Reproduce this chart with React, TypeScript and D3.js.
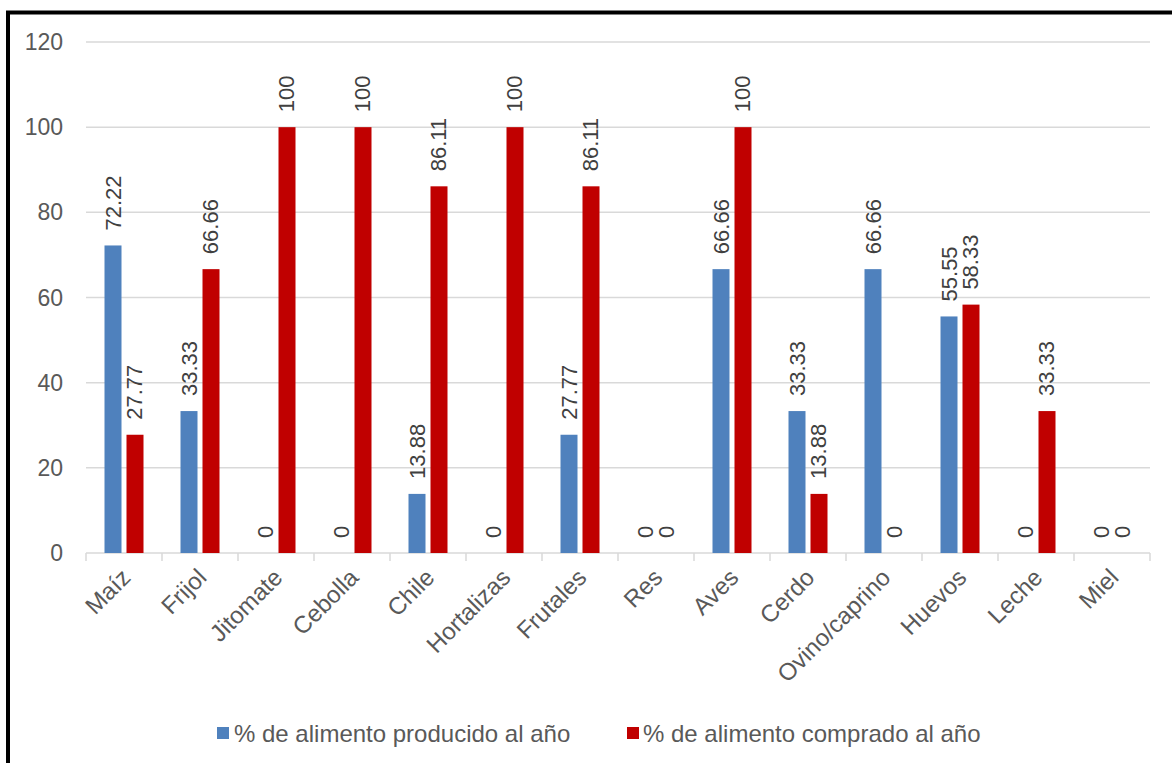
import React from "react";
import * as d3 from "d3";

const categories = ["Maíz","Frijol","Jitomate","Cebolla","Chile","Hortalizas","Frutales","Res","Aves","Cerdo","Ovino/caprino","Huevos","Leche","Miel"];
const producido = [72.22,33.33,0,0,13.88,0,27.77,0,66.66,33.33,66.66,55.55,0,0];
const comprado = [27.77,66.66,100,100,86.11,100,86.11,0,100,13.88,0,58.33,33.33,0];
const seriesNames = ["% de alimento producido al año","% de alimento comprado al año"];
const yTicks = [0,20,40,60,80,100,120];

const W = 1172, H = 763;
const left = 86, right = 1150, top = 42, bottom = 553;
const colors = ["#4f81bd", "#c00000"];
const font = "Arial, 'Liberation Sans', sans-serif";

export default function App() {
  const x = d3.scaleBand<string>().domain(categories).range([left, right]).paddingInner(0).paddingOuter(0);
  const sub = d3.scaleBand<string>().domain(["p","c"]).range([0, x.bandwidth()]).paddingInner(5/22).paddingOuter(0.841);
  const y = d3.scaleLinear().domain([0,120]).range([bottom, top]);
  const series = [producido, comprado];
  const keys = ["p","c"];
  const fmt = (v: number) => (v === 0 ? "0" : d3.format("")(v));
  return (
    <svg width={W} height={H} style={{position:"absolute", left:0, top:0}} fontFamily={font}>
      <rect x={0} y={0} width={W} height={H} fill="#fff" />
      <rect x={8} y={12.5} width={W + 20} height={H + 20} fill="none" stroke="#000" strokeWidth={4} />
      {yTicks.map(t => (
        <g key={t}>
          {t > 0 && <line x1={left} x2={right} y1={y(t)} y2={y(t)} stroke="#d9d9d9" strokeWidth={1.5} />}
          <text x={63} y={y(t)} textAnchor="end" dominantBaseline="central" fontSize={23} fill="#595959">{t}</text>
        </g>
      ))}
      <line x1={left} x2={right} y1={bottom} y2={bottom} stroke="#d9d9d9" strokeWidth={1.5} />
      {categories.map((c, i) => (
        <line key={"t"+i} x1={x(c)!} x2={x(c)!} y1={bottom} y2={bottom + 8} stroke="#d9d9d9" strokeWidth={1.5} />
      ))}
      <line x1={right} x2={right} y1={bottom} y2={bottom + 8} stroke="#d9d9d9" strokeWidth={1.5} />
      {series.map((vals, s) => vals.map((v, i) => {
        const bx = x(categories[i])! + sub(keys[s])!;
        const bw = sub.bandwidth();
        const cx = bx + bw / 2;
        return (
          <g key={s + "-" + i}>
            {v > 0 && <rect x={bx} y={y(v)} width={bw} height={bottom - y(v)} fill={colors[s]} />}
            <text transform={`translate(${cx},${y(v) - 15}) rotate(-90)`} textAnchor="start" dominantBaseline="central" fontSize={22} fill="#404040">{fmt(v)}</text>
          </g>
        );
      }))}
      {categories.map((c, i) => (
        <text key={"l"+i} transform={`translate(${x(c)! + x.bandwidth()/2 + 2},${bottom + 20}) rotate(-45)`} textAnchor="end" dominantBaseline="central" fontSize={24} fill="#595959">{c}</text>
      ))}
      <g>
        <rect x={217} y={727} width={12} height={12} fill={colors[0]} />
        <text x={234} y={733} dominantBaseline="central" fontSize={24} fill="#595959">{seriesNames[0]}</text>
        <rect x={627} y={727} width={12} height={12} fill={colors[1]} />
        <text x={643} y={733} dominantBaseline="central" fontSize={24} fill="#595959">{seriesNames[1]}</text>
      </g>
    </svg>
  );
}
